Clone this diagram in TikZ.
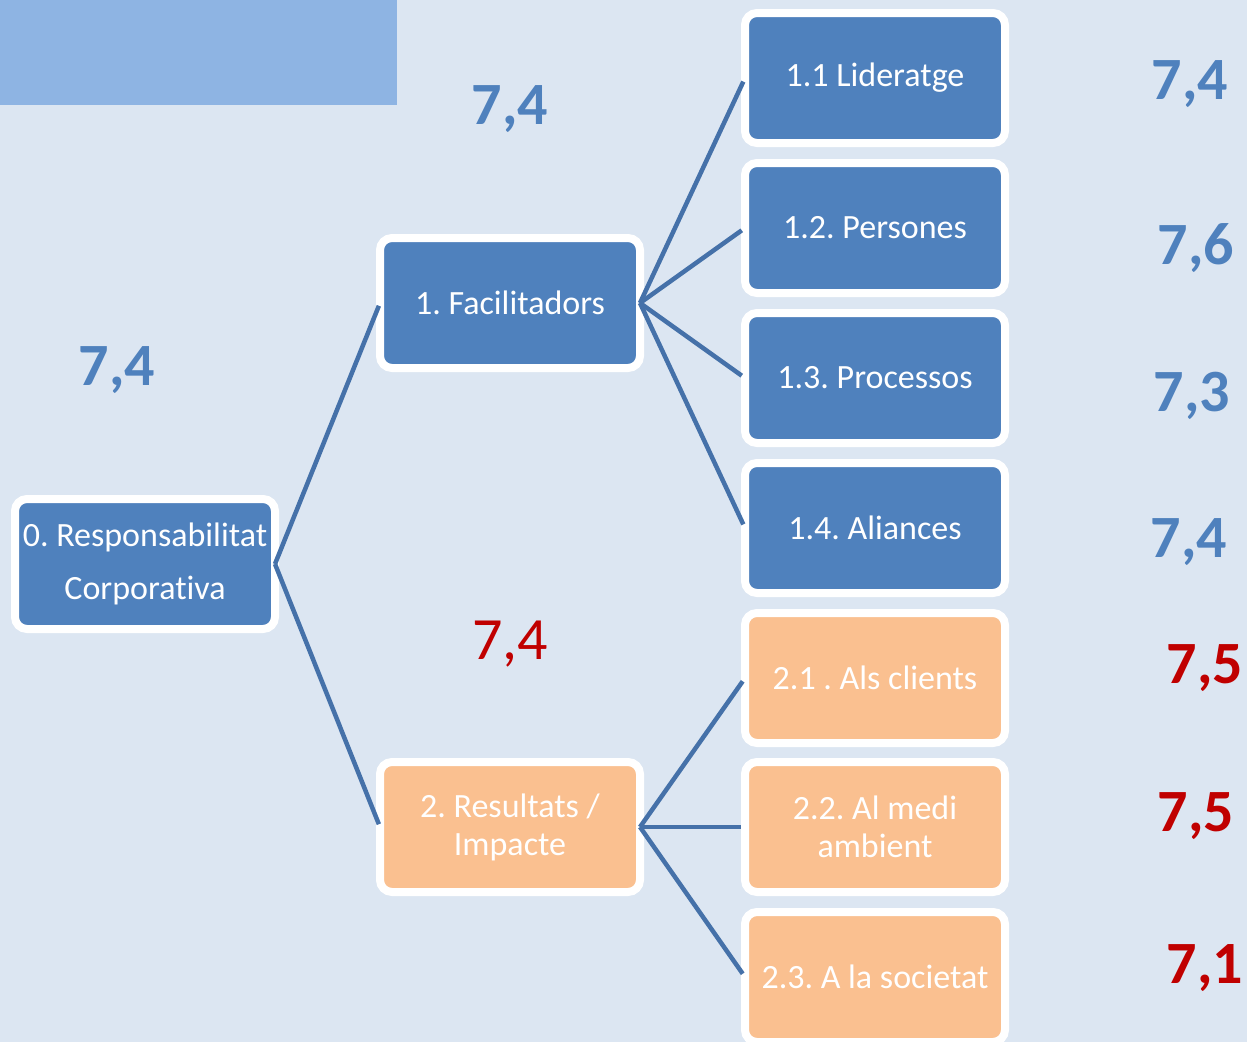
\documentclass[tikz,border=0pt]{standalone}
\usepackage{fontspec}
\setmainfont[Ligatures=NoCommon]{Carlito}
\frenchspacing
\definecolor{bgc}{HTML}{DCE6F2}
\definecolor{topc}{HTML}{8EB4E3}
\definecolor{boxblue}{HTML}{4F81BD}
\definecolor{boxorange}{HTML}{FAC090}
\definecolor{linec}{HTML}{4571A9}
\definecolor{numblue}{HTML}{4F81BD}
\definecolor{numred}{HTML}{C00000}
\begin{document}
\frenchspacing
\begin{tikzpicture}[x=1pt,y=-1pt,
  boxbase/.style={draw=white, line width=8pt, rounded corners=12pt,
    minimum width=260pt, minimum height=130pt, inner sep=0pt, outer sep=0pt,
    text=white, align=center, font=\fontsize{34}{38}\selectfont},
  bluebox/.style={boxbase, fill=boxblue},
  orangebox/.style={boxbase, fill=boxorange},
  conn/.style={draw=linec, line width=4.5pt},
  numb/.style={anchor=base, inner sep=0pt, font=\fontsize{60}{60}\selectfont\bfseries, text=numblue},
  numr/.style={anchor=base, inner sep=0pt, font=\fontsize{60}{60}\selectfont\bfseries, text=numred},
  numrl/.style={anchor=base, inner sep=0pt, font=\fontsize{60}{60}\selectfont, text=numred}
]
\useasboundingbox (0,0) rectangle (1247,1042);
\fill[bgc] (0,0) rectangle (1247,1042);
\fill[topc] (0,0) rectangle (397,105);

% boxes
\node[bluebox, font=\fontsize{34}{53}\selectfont] (root) at (145,564) {0. Responsabilitat\\Corporativa};
\node[bluebox] (fac) at (510,303) {1. Facilitadors};
\node[orangebox] (res) at (510,827) {2. Resultats /\\Impacte};
\node[bluebox] (c11) at (875,78) {1.1 Lideratge};
\node[bluebox] (c12) at (875,228) {1.2. Persones};
\node[bluebox] (c13) at (875,378) {1.3. Processos};
\node[bluebox] (c14) at (875,528) {1.4. Aliances};
\node[orangebox] (c21) at (875,678) {2.1 . Als clients};
\node[orangebox] (c22) at (875,827) {2.2. Al medi\\ambient};
\node[orangebox] (c23) at (875,977) {2.3. A la societat};

% connectors
\draw[conn, shorten >=3pt] (root.east) -- (fac.west);
\draw[conn, shorten >=3pt] (root.east) -- (res.west);
\foreach \c in {c11,c12,c13,c14}
  \draw[conn, shorten >=4pt] (fac.east) -- (\c.west);
\foreach \c in {c21,c22,c23}
  \draw[conn, shorten >=4pt] (res.east) -- (\c.west);

% scores
\node[numb] (sfac) at (510,124) {7,4};
\node[numb] (sroot) at (117,385) {7,4};
\node[numrl] (sres) at (510,659) {7,4};
\node[numb] (s11) at (1190,99) {7,4};
\node[numb] (s12) at (1196,264) {7,6};
\node[numb] (s13) at (1192,411) {7,3};
\node[numb] (s14) at (1189,557) {7,4};
\node[numr] (s21) at (1205,683) {7,5};
\node[numr] (s22) at (1196,831) {7,5};
\node[numr] (s23) at (1205,983) {7,1};
\end{tikzpicture}
\end{document}
